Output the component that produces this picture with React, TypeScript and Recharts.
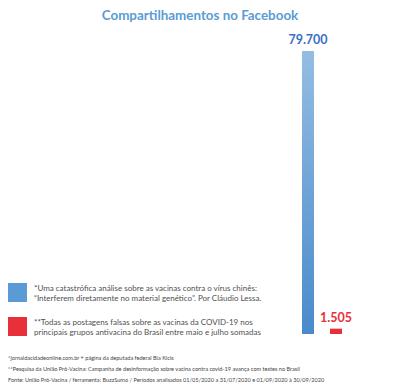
import { BarChart, Bar, XAxis, YAxis, Cell, LabelList } from "recharts";

const categories = ["Análise vírus chinês", "Postagens antivacina"];
const shares = [79700, 1505];
const shareLabels = ["79.700", "1.505"];
const labelColors = ["#3b6fc6", "#e8303a"];

const legendItems = [
  {
    color: "#5b9bd5",
    lines: [
      "*Uma catastrófica análise sobre as vacinas contra o vírus chinês:",
      "“Interferem diretamente no material genético”. Por Cláudio Lessa.",
    ],
  },
  {
    color: "#e8303a",
    lines: [
      "**Todas as postagens falsas sobre as vacinas da COVID-19 nos",
      "principais grupos antivacina do Brasil entre maio e julho somadas",
    ],
  },
];

const footnotes = [
  "*jornaldacidadeonline.com.br + página da deputada federal Bia Kicis",
  "**Pesquisa da União Pró-Vacina: Campanha de desinformação sobre vacina contra covid-19 avança com testes no Brasil",
  "Fonte: União Pró-Vacina / ferramenta: BuzzSumo / Períodos analisados 01/05/2020 a 31/07/2020 e 01/09/2020 à 30/09/2020",
];

const data = categories.map((name, i) => ({ name, value: shares[i], label: shareLabels[i] }));

const font = "Lato, 'Open Sans', sans-serif";

function ValueLabel(props: any) {
  const { x, y, width, index } = props;
  return (
    <text
      x={x + width / 2}
      y={y - 7}
      textAnchor="middle"
      fill={labelColors[index]}
      fontSize={12.5}
      fontWeight={700}
      fontFamily={font}
    >
      {shareLabels[index]}
    </text>
  );
}

export default function App() {
  return (
    <div style={{ position: "relative", width: 400, height: 385, background: "#fff", fontFamily: font }}>
      <style>{"body{margin:0}"}</style>
      <div
        style={{
          position: "absolute", top: 7, left: 0, width: 400, textAlign: "center",
          color: "#5b9bd5", fontWeight: 700, fontSize: 13.4,
        }}
      >
        Compartilhamentos no Facebook
      </div>

      <BarChart
        width={400}
        height={385}
        data={data}
        margin={{ top: 51, right: 50, bottom: 51, left: 294 }}
        style={{ position: "absolute", top: 0, left: 0 }}
      >
        <defs>
          <linearGradient id="blueGrad" x1="0" y1="0" x2="0" y2="1">
            <stop offset="0%" stopColor="#94bde3" />
            <stop offset="100%" stopColor="#4a8acb" />
          </linearGradient>
        </defs>
        <XAxis dataKey="name" hide />
        <YAxis hide domain={[0, 79700]} />
        <Bar dataKey="value" barSize={12} isAnimationActive={false}>
          <Cell fill="url(#blueGrad)" />
          <Cell fill="#e8303a" />
          <LabelList dataKey="label" content={<ValueLabel />} />
        </Bar>
      </BarChart>

      {legendItems.map((item, i) => (
        <div key={i} style={{ position: "absolute", left: 8, top: 283 + i * 34, display: "flex" }}>
          <div style={{ width: 19, height: 19, background: item.color, flex: "none" }} />
          <div style={{ marginLeft: 7, marginTop: 1, fontSize: 8, lineHeight: "9.5px", color: "#505050" }}>
            {item.lines.map((l, j) => (
              <div key={j} style={{ whiteSpace: "nowrap" }}>{l}</div>
            ))}
          </div>
        </div>
      ))}

      {footnotes.map((f, i) => (
        <div
          key={i}
          style={{
            position: "absolute", left: 8, top: 354 + i * 11, fontSize: 5.6,
            color: "#444", whiteSpace: "nowrap",
          }}
        >
          {f}
        </div>
      ))}
    </div>
  );
}
